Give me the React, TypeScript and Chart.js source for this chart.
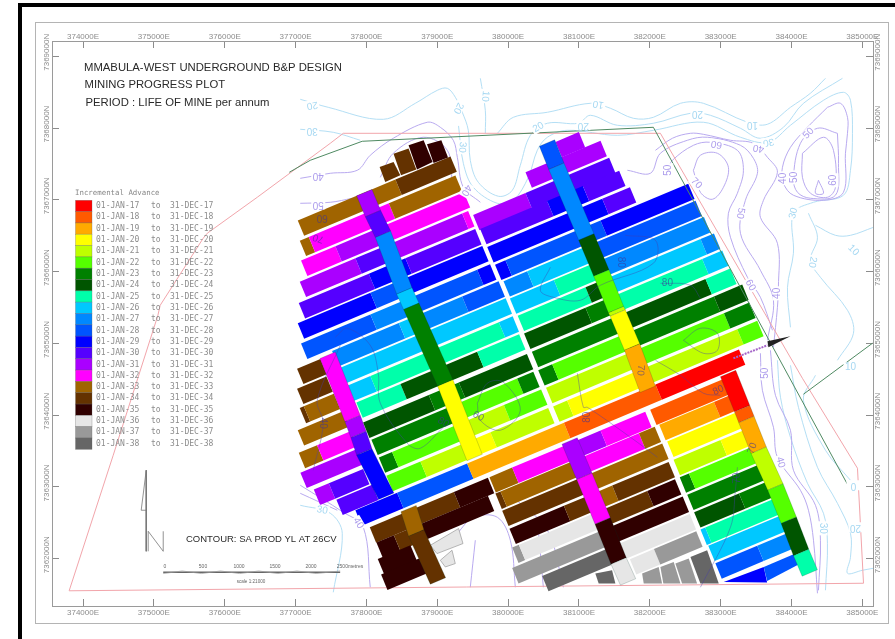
import React, { useEffect, useRef } from "react";
import { Chart, registerables } from "chart.js";

Chart.register(...registerables);

type Pt = [number, number];
// All map values are km past 370000E / 7360000N.
const eastTickValues = [374000,375000,376000,377000,378000,379000,380000,381000,382000,383000,384000,385000];
const northTickValues = [7362000,7363000,7364000,7365000,7366000,7367000,7368000,7369000];
const years = [17,18,19,20,21,22,23,24,25,26,27,28,29,30,31,32,33,34,35,36,37,38];
const yearColours = ["#ff0000","#ff5a00","#ffaa00","#ffff00","#bfff00","#55ff00","#008000","#005500","#00ffaa","#00c8ff","#0088ff","#0055ff","#0000ff","#5500ff","#aa00ff","#ff00ff","#a06400","#643200","#300000","#e6e6e6","#999999","#666666"];

// Panel rows: northing at 380000E, easting breaks, year of each stretch.
type Row = [number, number[], number[]];
const rowsNorthWest: Row[] = [
  [7.816,[7.076,8.454,9.231],[33,34]],
  [7.523,[7.104,7.231,8.361,9.301],[33,32,33]],
  [7.239,[7.122,7.607,8.290,9.420],[32,31,32]],
  [6.952,[7.104,7.889,8.290,9.396,9.48],[31,30,31,32]],
  [6.660,[7.090,8.078,8.595,9.58],[30,29,30]],
  [6.384,[7.076,8.101,8.619,9.68],[29,28,29]],
  [6.082,[7.122,8.101,8.714,9.608,9.79],[28,27,28,29]],
  [5.796,[7.560,8.502,8.807,9.396,9.91],[27,26,27,28]],
  [5.517,[7.677,10.01],[26]],
  [5.225,[7.782,8.101,9.914,10.109],[26,25,26]],
  [4.939,[7.903,8.525,9.608,10.20],[25,24,25]],
  [4.619,[7.998,8.925,9.349,10.31],[24,23,24]],
  [4.333,[8.115,9.349,10.172,10.40],[23,22,23]],
  [4.041,[8.220,8.407,9.349,9.985,10.51],[23,22,21,22]],
  [3.741,[8.327,8.807,9.466,9.795,10.61],[22,21,20,21]],
];
const rowsNorthEast: Row[] = [
  [7.405,[10.713,11.043],[31]],
  [7.157,[10.290,11.349],[31]],
  [6.869,[9.551,10.290,11.471],[31,30]],
  [6.632,[9.65,10.596,11.1,11.612],[30,29,30]],
  [6.339,[9.75,11.373,11.764],[29,30]],
  [6.047,[9.86,10.007,11.349,12.587],[29,28,29]],
  [5.768,[9.98,10.314,11.161,12.690],[27,26,28]],
  [5.490,[10.07,10.691,11.302,12.809],[26,25,27]],
  [5.204,[10.18,11.137,11.349,12.761,12.950],[25,24,26,27]],
  [4.918,[10.27,11.137,11.443,12.784,13.067],[24,23,25,26]],
  [4.619,[10.38,11.556,12.831,13.180],[23,24,25]],
  [4.326,[10.47,10.667,11.679,12.950,13.349],[23,22,23,24]],
  [4.034,[10.58,11.87,13.091,13.448],[21,22,23]],
  [3.734,[10.68,10.878,11.96,13.279,13.561],[21,20,21,22]],
];
const rowHaulage: Row[] = [
  [3.442,[7.889,8.478,9.466,10.832,12.125,13.303],[29,28,19,18,17]],
];
const rowsSouthEast: Row[] = [
  [3.121,[12.05,13.067],[18]],
  [2.857,[12.178,12.950,13.208],[19,18]],
  [2.578,[12.29,13.255],[20]],
  [2.286,[12.38,13.043,13.364],[21,20]],
  [2.007,[12.467,12.597,13.491],[23,22]],
  [1.721,[12.573,13.589],[23]],
  [1.436,[12.67,13.303,13.678],[24,23]],
  [1.157,[12.76,12.827,13.773],[26,25]],
  [0.886,[12.87,13.985],[26]],
  [0.600,[12.97,13.561,14.084],[28,27]],
];
const rowsSouthMiddle: Row[] = [
  [3.121,[9.781,10.102,10.832,11.349,11.98],[33,32,31,32]],
  [2.857,[9.866,9.937,11.114,11.891,12.114],[34,33,32,33]],
  [2.578,[9.961,11.13,12.22],[34,33]],
  [2.286,[10.064,10.832,11.2,11.514,12.31],[35,34,33,34]],
  [2.007,[10.102,10.196,11.419,12.008,12.40],[37,36,34,35]],
  [1.721,[10.102,11.45,12.509],[37,35]],
  [1.436,[10.525,11.443,11.627,12.608],[38,36,36]],
  [1.157,[11.764,12.103,12.70],[36,37]],
];
const rowsSouthWest: Row[] = [
  [3.121,[8.092,9.279,9.759],[34,35]],
  [2.871,[8.186,8.432,8.76,9.759],[35,34,35]],
  [2.634,[8.205,8.666],[35]],
  [2.397,[8.252,8.855],[35]],
];
const rowsWestStubs: Row[] = [
  [5.756,[7.066,7.395],[34]],
  [5.476,[7.066,7.480],[34]],
  [5.193,[7.104,7.161,7.584],[34,33]],
  [4.895,[7.076,7.716],[33]],
  [4.573,[7.090,7.348,7.819],[33,32]],
  [4.287,[7.113,7.913],[31]],
  [3.974,[7.302,7.514,7.998],[31,30]],
  [3.701,[7.621,8.125],[30]],
];

// Gate roads: centreline stations and the year of each stretch.
type Gate = [Pt[], number[]];
const gates: Gate[] = [
  [[[7.452,4.835],[7.805,3.953],[7.889,3.730],[7.970,3.488],[8.280,2.871]],[32,31,30,29]],
  [[[7.970,7.101],[8.092,6.809],[8.234,6.520],[8.535,5.731],[8.633,5.517],[9.113,4.449],[9.527,3.410]],[31,30,27,26,23,20]],
  [[[10.549,7.792],[10.681,7.468],[11.104,6.483],[11.316,5.981],[11.523,5.471],[11.547,5.424],[11.750,4.950],[11.970,4.361]],[28,27,24,22,21,20,19]],
  [[[10.868,3.641],[11.076,3.149],[11.335,2.527],[11.560,1.969],[11.693,1.677]],[31,32,35,36]],
  [[[13.105,4.580],[13.303,4.092],[13.364,3.939],[13.537,3.511],[13.773,3.000],[13.961,2.536],[14.136,2.087],[14.258,1.802]],[17,18,19,21,22,24,25]],
  [[[8.595,2.699],[8.704,2.359],[9.010,1.691]],[33,34]],
];

// Short irregular blocks: four corners and a year.
type Block = [Pt[], number];
const blocks: Block[] = [
  [[[8.186,7.458],[8.383,7.527],[8.478,7.342],[8.266,7.249]],34],
  [[[8.383,7.644],[8.595,7.714],[8.704,7.422],[8.488,7.342]],34],
  [[[8.595,7.760],[8.807,7.830],[8.934,7.528],[8.714,7.422]],35],
  [[[8.855,7.774],[9.057,7.830],[9.152,7.589],[8.948,7.514]],35],
  [[[8.902,2.188],[9.301,2.421],[9.363,2.212],[8.996,2.072]],36],
  [[[9.043,1.979],[9.208,2.119],[9.254,1.933],[9.113,1.886]],36],
  [[[11.891,1.794],[12.125,1.886],[12.173,1.654],[11.914,1.654]],37],
  [[[12.149,1.886],[12.337,1.956],[12.432,1.654],[12.191,1.654]],37],
  [[[12.361,1.933],[12.549,2.003],[12.667,1.654],[12.455,1.654]],37],
  [[[12.573,2.025],[12.809,2.118],[12.973,1.654],[12.714,1.654]],38],
  [[[11.231,1.794],[11.467,1.840],[11.514,1.654],[11.278,1.654]],38],
  [[[13.043,1.677],[13.608,1.886],[13.656,1.669]],29],
  [[[13.608,1.886],[14.055,2.072],[14.126,1.933],[13.656,1.691]],28],
];

const leaseBoundary: Pt[] = [[3.804,1.554],[4.426,3.442],[5.057,5.392],[5.089,5.531],[5.696,6.465],[5.753,6.534],[6.459,7.036],[7.490,7.788],[7.673,7.927],[12.149,7.927],[14.154,4.514],[14.931,3.261],[15.016,1.659],[3.804,1.554]];
const greenLineA: Pt[] = [[6.911,7.384],[7.207,7.551],[7.941,7.816],[12.050,8.011],[14.804,3.010]];
const greenLineB: Pt[] = [[14.168,4.292],[15.142,5.002]];
const shaftArrow: Pt[] = [[13.660,5.030],[13.985,5.100],[13.674,4.946],[13.660,5.030]];
const inclineLine: Pt[] = [[13.180,4.793],[13.660,4.974]];

const lightContours: Pt[][] = [
  [[9.608,8.693],[9.678,8.248],[9.678,7.927]],
  [[9.848,7.927],[10.074,8.150],[10.554,8.220],[11.161,8.345],[11.443,8.276],[11.768,8.136],[12.050,8.150],[12.432,8.345],[12.756,8.345],[13.378,8.081],[13.660,8.053],[13.985,8.289],[14.267,8.485],[14.479,8.693]],
  [[7.066,8.401],[7.461,8.289],[8.238,8.122],[8.690,8.345],[9.000,8.526],[9.142,8.554],[9.255,8.429],[9.353,8.220],[9.438,7.969],[9.466,7.551],[9.579,7.245],[9.862,7.050],[10.059,7.133],[10.172,7.482],[10.314,7.899],[10.554,8.067],[10.991,8.067],[11.161,8.178],[11.542,8.039],[12.050,8.067],[12.573,8.206],[12.855,8.178],[13.279,7.997],[13.561,7.858],[13.886,8.011],[14.168,8.345],[14.719,8.693]],
  [[7.066,7.983],[7.532,7.941],[7.913,7.830]],
  [[9.300,8.030],[9.368,7.509],[9.509,7.175],[9.848,6.952],[10.074,6.994],[10.285,7.314],[10.412,7.690],[10.554,7.872],[10.836,7.969],[11.542,7.899],[12.050,7.969],[12.756,8.081],[13.279,7.872],[13.674,7.802],[13.985,8.039],[14.451,8.387],[14.733,8.498],[14.832,8.387],[14.860,7.927],[14.832,7.412],[14.733,7.064],[14.310,6.966],[14.027,6.813],[14.027,6.256],[13.943,5.782],[13.985,5.225]],
  [[14.239,6.813],[14.366,6.479],[14.267,6.158],[14.408,5.921],[14.790,5.462],[14.874,5.141],[14.648,4.765]],
  [[15.157,6.618],[14.832,6.506],[14.620,6.506],[14.338,6.646]],
  [[13.801,4.765],[13.844,4.250],[13.985,3.692],[14.225,3.052],[14.451,2.634],[14.507,2.216],[14.479,1.561]],
  [[13.985,4.695],[14.098,4.110],[14.366,3.275],[14.648,2.773],[14.832,2.355],[14.832,2.021],[14.790,1.798],[15.001,1.840],[15.157,1.868]],
  [[14.338,4.556],[14.168,4.208],[14.479,3.512],[14.832,3.094]],
  [[7.066,2.745],[7.490,2.634],[7.659,2.355],[7.532,1.533]],
];
const purpleContours: Pt[][] = [
  [[7.066,7.300],[7.490,7.370],[7.871,7.412],[8.054,7.621],[8.379,7.858],[8.859,8.081],[9.043,8.011],[9.226,7.830],[9.283,7.593],[9.368,7.175],[9.608,6.966]],
  [[7.066,6.952],[7.490,6.966],[7.800,7.022]],
  [[8.196,7.314],[8.379,7.649],[8.803,7.872],[9.142,7.690],[9.212,7.231]],
  [[12.615,7.412],[12.714,7.621],[12.954,7.649],[13.109,7.454],[13.039,7.175],[12.883,7.008],[12.714,7.105],[12.615,7.412]],
  [[12.248,7.412],[12.319,7.551],[12.615,7.760],[12.855,7.802],[13.236,7.690],[13.321,7.412],[13.236,7.092],[13.109,6.813],[13.138,6.479],[13.378,5.921],[13.561,5.643],[13.731,5.183]],
  [[11.683,7.412],[12.008,7.370],[12.149,7.649],[12.530,7.830],[12.813,7.872],[13.279,7.760],[13.462,7.579],[13.519,7.370],[13.349,6.994],[13.279,6.534],[13.561,6.019],[13.745,5.601],[13.660,5.044]],
  [[12.079,7.690],[12.319,7.858],[12.573,7.927],[12.756,7.913],[13.138,7.830],[13.462,7.788],[13.660,7.593],[13.801,7.384],[13.604,6.994],[13.561,6.757],[13.801,6.395],[13.815,5.782],[13.801,5.503],[13.745,4.946]],
  [[14.507,8.289],[14.691,8.345],[14.790,8.150],[14.790,7.927],[14.761,7.649],[14.733,7.105],[14.451,6.994],[14.027,7.064],[13.886,7.231],[13.872,7.454],[13.985,7.732],[14.225,8.011],[14.507,8.289]],
  [[14.648,7.927],[14.663,7.509],[14.620,7.064],[14.267,7.022],[14.084,7.105],[14.027,7.300],[14.126,7.788],[14.366,7.997],[14.648,7.927]],
  [[14.154,7.649],[14.451,7.872],[14.592,7.690],[14.620,7.175],[14.507,7.036],[14.267,7.092],[14.154,7.314],[14.154,7.649]],
  [[14.380,7.273],[14.338,7.092],[14.451,7.092],[14.380,7.273]],
  [[13.561,4.863],[13.589,4.347],[13.745,3.832],[13.801,3.414],[14.126,2.954],[14.239,2.676],[14.310,2.258],[14.366,1.519]],
  [[13.702,4.904],[13.773,4.277],[13.985,3.790],[14.027,3.233],[14.338,2.745],[14.408,2.258],[14.380,1.560]],
  [[7.066,3.024],[7.673,2.648],[7.956,2.439],[8.054,1.603]],
  [[7.066,2.912],[7.589,2.676]],
  [[9.283,2.355],[9.509,2.578],[9.848,2.578],[10.031,2.258],[10.102,1.603]],
  [[9.537,2.258],[9.466,1.603]],
  [[10.427,2.397],[10.497,1.603]],
  [[10.074,2.857],[10.554,2.397],[10.780,1.603]],
];
const minedOverContours: Pt[][] = [
  [[7.560,5.086],[7.730,5.211],[8.054,4.974],[8.167,4.584],[8.196,4.166],[8.577,3.609],[8.760,3.539],[9.085,3.832]],
  [[9.565,4.166],[9.706,4.445],[9.932,4.459],[10.172,4.069],[9.890,3.790],[9.608,3.929],[9.565,4.166]],
  [[10.596,6.061],[10.455,5.740],[10.638,5.643],[11.020,5.601],[11.302,5.810],[12.050,6.116],[12.079,6.437],[11.655,6.506]],
  [[12.149,5.838],[12.573,5.810],[12.714,5.629]],
  [[12.474,5.044],[12.714,5.211],[12.954,5.141],[12.954,4.904],[12.756,4.863],[12.474,5.044]],
  [[10.977,4.584],[11.062,4.110],[11.118,4.110],[11.726,3.693],[12.107,3.414]],
  [[12.079,4.765],[12.432,4.556],[12.756,4.306],[12.996,4.278]],
  [[13.236,3.275],[13.208,2.954],[13.138,2.439],[12.714,1.603]],
  [[7.250,3.233],[7.391,3.888],[7.306,4.208],[7.631,4.974]],
];
// Contour labels: text, east, north, angle, tone (0 light, 1 purple, 2 over panels).
const contourLabels: [string, number, number, number, number][] = [
  ["20",7.235,8.317,170,0],["30",7.235,7.969,180,0],["40",7.320,7.329,180,1],["50",7.320,6.938,180,1],["60",7.377,6.757,180,2],["70",7.320,6.465,200,2],
  ["20",9.297,8.276,115,0],["10",9.678,8.443,95,0],["30",9.353,7.732,95,0],["40",9.410,7.133,120,1],["30",7.377,2.676,10,0],["40",7.885,2.495,60,1],
  ["10",11.274,8.331,190,0],["20",11.062,8.039,180,0],["20",10.427,8.011,-30,0],["20",12.672,8.206,180,0],["10",13.448,8.053,180,0],["30",13.674,7.802,170,0],["40",13.533,7.718,190,1],
  ["30",14.027,6.813,-75,0],["20",14.296,6.130,100,0],["10",14.874,6.298,45,0],["40",13.886,7.300,-90,1],["50",14.041,7.314,-90,1],["50",14.239,7.927,-45,1],["60",14.592,7.273,-90,1],
  ["50",13.279,6.813,100,1],["40",13.801,5.698,-90,1],["60",13.420,5.810,60,1],["70",12.658,7.231,45,1],["60",12.940,7.774,190,1],["50",12.262,7.412,-90,1],["80",12.248,5.838,0,2],
  ["50",13.632,4.584,-90,1],["40",13.844,3.344,75,1],["30",14.437,2.425,90,0],["20",14.903,2.439,180,0],["10",14.832,4.668,0,0],["0",14.874,3.024,180,0],
  ["80",12.968,4.347,-25,2],["80",11.118,3.971,-90,2],["70",11.867,4.626,95,2],["70",13.448,3.539,-70,2],["70",13.236,3.121,-90,2],["80",9.085,3.901,30,2],["60",9.579,3.985,30,2],["80",11.584,6.130,90,2],["40",7.377,3.888,90,2],
];
const labelTones = ["#a6d8f2","#ac9cec","rgba(60,50,150,0.6)"];

const northArrowStem: Pt[] = [[4.892,3.233],[4.892,2.104]];
const northArrowHead: Pt[] = [[4.892,3.233],[4.821,2.676],[4.892,2.676]];
const northLetter: Pt[] = [[4.920,2.104],[4.920,2.383],[5.132,2.104],[5.132,2.383]];
const scaleBarStations = [5.132,5.40,5.67,5.94,6.21,6.48,6.75,7.02,7.29,7.629];
const scaleBarNorth = 1.812;
const scaleBarText = ["0","500","1000","1500","2000","2500metres"];
const titleLines = ["MMABULA-WEST UNDERGROUND B&P DESIGN","MINING PROGRESS PLOT","PERIOD : LIFE OF MINE per annum"];
const contourNote = "CONTOUR: SA PROD YL AT 26CV";
const scaleNote = "scale 1:21000";
const legendHeading = "Incremental Advance";

const RUN = 0.414, SKEW = 0.42, HALF_ROW = 0.107, HALF_GATE = 0.108;
const east = (km: number) => 370000 + km * 1000;
const north = (km: number) => 7360000 + km * 1000;
const colourOf = (y: number) => yearColours[years.indexOf(y)];
const toData = (pts: Pt[]) => pts.map(([e, n]) => ({ x: east(e), y: north(n) }));

function shape(pts: Pt[], colour: string, edge = "transparent", edgeWidth = 0) {
  const closed = [...pts, pts[0]];
  return { type: "scatter", data: toData(closed), showLine: true, fill: "shape", backgroundColor: colour, borderColor: edge, borderWidth: edgeWidth, pointRadius: 0, tension: 0 };
}
function line(pts: Pt[], colour: string, width = 1, dash: number[] = [], tension = 0) {
  return { type: "scatter", data: toData(pts), showLine: true, fill: false, borderColor: colour, borderWidth: width, borderDash: dash, pointRadius: 0, tension };
}
function rowShapes(rows: Row[]) {
  const out: any[] = [];
  for (const [n, br, ys] of rows) {
    const c = (e: number) => n + RUN * (e - 10);
    ys.forEach((y, i) => {
      const a = br[i], b = br[i + 1];
      out.push(shape([
        [a - SKEW * HALF_ROW, c(a) + HALF_ROW], [b - SKEW * HALF_ROW, c(b) + HALF_ROW],
        [b + SKEW * HALF_ROW, c(b) - HALF_ROW], [a + SKEW * HALF_ROW, c(a) - HALF_ROW],
      ], colourOf(y)));
    });
  }
  return out;
}
function gateShapes(list: Gate[]) {
  const out: any[] = [];
  for (const [st, ys] of list) {
    ys.forEach((y, i) => {
      const [e0, n0] = st[i], [e1, n1] = st[i + 1];
      out.push(shape([
        [e0 - HALF_GATE, n0 - RUN * HALF_GATE], [e0 + HALF_GATE, n0 + RUN * HALF_GATE],
        [e1 + HALF_GATE, n1 + RUN * HALF_GATE], [e1 - HALF_GATE, n1 - RUN * HALF_GATE],
      ], colourOf(y), "rgba(0,50,40,0.3)", 0.6));
    });
  }
  return out;
}

const sheetPlugin = {
  id: "sheet",
  beforeDraw(chart: any) {
    const { ctx, width, height } = chart;
    ctx.save();
    ctx.fillStyle = "#fff"; ctx.fillRect(0, 0, width, height);
    ctx.fillStyle = "#000"; ctx.fillRect(18, 3, 877, 4); ctx.fillRect(18, 3, 4, 636);
    ctx.strokeStyle = "#b4b4b4"; ctx.lineWidth = 1; ctx.strokeRect(35.5, 22.5, 853, 601);
    ctx.restore();
  },
  afterDraw(chart: any) {
    const { ctx, scales } = chart;
    const X = (km: number) => scales.x.getPixelForValue(east(km));
    const Y = (km: number) => scales.y.getPixelForValue(north(km));
    ctx.save();
    // northing tick labels, read bottom-to-top and centred on their ticks
    ctx.font = "8px 'Liberation Sans'"; ctx.fillStyle = "#8c8c8c"; ctx.textAlign = "center"; ctx.textBaseline = "middle";
    for (const [sc, px] of [[scales.y, 46.5], [scales.y2, 878]] as [any, number][]) {
      for (const t of sc.ticks) {
        ctx.save(); ctx.translate(px, sc.getPixelForValue(t.value) - 4); ctx.rotate(-Math.PI / 2);
        ctx.fillText(`${t.value}N`, 0, 0); ctx.restore();
      }
    }
    // contour labels
    ctx.font = "10px 'Liberation Sans'";
    for (const [txt, e, n, ang, tone] of contourLabels) {
      const x = X(e), y = Y(n);
      ctx.save(); ctx.translate(x, y); ctx.rotate(ang * Math.PI / 180);
      if (tone !== 2) { ctx.fillStyle = "#fff"; ctx.fillRect(-7, -5, 14, 10); }
      ctx.fillStyle = labelTones[tone]; ctx.fillText(txt, 0, 0); ctx.restore();
    }
    // titles
    ctx.textAlign = "left"; ctx.fillStyle = "#2a2a2a"; ctx.font = "11.3px 'Liberation Sans'";
    ctx.fillText(titleLines[0], 84, 67.5); ctx.fillText(titleLines[1], 84.5, 85); ctx.fillText(titleLines[2], 85.5, 103);
    ctx.font = "9.5px 'Liberation Sans'"; ctx.fillText(contourNote, 186, 539);
    // legend
    const top = 200.3, step = 11.32;
    ctx.fillStyle = "#888"; ctx.font = "7.4px 'DejaVu Sans Mono'"; ctx.fillText(legendHeading, 75, 193);
    ctx.font = "8px 'DejaVu Sans Mono'";
    years.forEach((y, i) => {
      const yy = top + i * step;
      ctx.fillStyle = yearColours[i]; ctx.fillRect(75.5, yy, 16.5, step);
      ctx.strokeStyle = "rgba(90,90,90,0.45)"; ctx.lineWidth = 0.6; ctx.strokeRect(75.5, yy, 16.5, step);
      ctx.fillStyle = "#8c8c8c";
      ctx.fillText(`01-JAN-${y}`, 96, yy + step / 2);
      ctx.fillText("to", 151, yy + step / 2);
      ctx.fillText(`31-DEC-${y}`, 170, yy + step / 2);
    });
    // scale bar captions
    ctx.fillStyle = "#666"; ctx.font = "5px 'Liberation Sans'"; ctx.textAlign = "center";
    scaleBarText.forEach((t, i) => ctx.fillText(t, [165, 203, 239, 275, 311, 350][i], 567));
    ctx.font = "4.6px 'Liberation Sans'"; ctx.fillText(scaleNote, 251, 581.5);
    ctx.restore();
  },
};

const chartData = (): any[] => {
  const bottomToTop: any[] = [
    ...lightContours.map((p) => line(p, "#b4dff5", 1, [], 0.35)),
    ...purpleContours.map((p) => line(p, "#b9aaf0", 1, [], 0.35)),
    line(leaseBoundary, "#f2a5ab", 1),
    ...rowShapes(rowsNorthWest), ...rowShapes(rowsNorthEast), ...rowShapes(rowHaulage),
    ...rowShapes(rowsSouthEast), ...rowShapes(rowsSouthMiddle), ...rowShapes(rowsSouthWest), ...rowShapes(rowsWestStubs),
    ...blocks.map(([p, y]) => shape(p, colourOf(y), y === 36 ? "#999" : "transparent", y === 36 ? 0.7 : 0)),
    ...gateShapes(gates),
    ...minedOverContours.map((p) => line(p, "rgba(70,60,170,0.45)", 0.9, [], 0.35)),
    line(greenLineA, "#4f8a62", 1), line(greenLineB, "#4f8a62", 1),
    line(inclineLine, "#a565c8", 2, [2, 1]),
    shape(shaftArrow, "#222"),
    line(northArrowStem, "#777", 1), line(northArrowHead, "#777", 0.8), line(northLetter, "#777", 0.8),
    line(scaleBarStations.map((e) => [e, scaleBarNorth] as Pt), "#666", 1.6),
    line(scaleBarStations.map((e, i) => [e, scaleBarNorth + (i % 2 ? 0.018 : -0.018)] as Pt), "#999", 0.7),
  ];
  return bottomToTop.reverse();
};

const axisBase = {
  type: "linear",
  grid: { display: true, drawOnChartArea: false, drawTicks: true, tickLength: -7, tickColor: "#8c8c8c", tickWidth: 1 },
  border: { display: true, color: "#9a9a9a", width: 1 },
};
const useTicks = (values: number[]) => (s: any) => { s.ticks = values.map((value) => ({ value })); };

export default function App() {
  const ref = useRef<HTMLCanvasElement>(null);
  useEffect(() => {
    const xRange = { min: 373562, max: 385150 };
    const yRange = { min: 7361342, max: 7369213 };
    const eastTicks = { autoSkip: false, maxRotation: 0, color: "#8c8c8c", font: { family: "'Liberation Sans'", size: 8 }, callback: (v: any) => `${v}E` };
    const northTicks = { autoSkip: false, display: false };
    const chart = new Chart(ref.current as HTMLCanvasElement, {
      type: "scatter",
      data: { datasets: chartData() },
      plugins: [sheetPlugin],
      options: {
        animation: false,
        responsive: false,
        devicePixelRatio: 1,
        layout: { padding: 0 },
        plugins: { legend: { display: false }, tooltip: { enabled: false }, title: { display: false } },
        scales: {
          x: { ...axisBase, position: "bottom", ...xRange, ticks: { ...eastTicks, padding: 9 }, afterBuildTicks: useTicks(eastTickValues), afterFit: (s: any) => { s.height = 33; } },
          x2: { ...axisBase, position: "top", ...xRange, ticks: { ...eastTicks, padding: 6 }, afterBuildTicks: useTicks(eastTickValues), afterFit: (s: any) => { s.height = 41; } },
          y: { ...axisBase, position: "left", ...yRange, ticks: northTicks, afterBuildTicks: useTicks(northTickValues), afterFit: (s: any) => { s.width = 52; } },
          y2: { ...axisBase, position: "right", ...yRange, ticks: northTicks, afterBuildTicks: useTicks(northTickValues), afterFit: (s: any) => { s.width = 22; } },
        },
      } as any,
    } as any);
    return () => chart.destroy();
  }, []);
  return (
    <div style={{ position: "fixed", left: 0, top: 0, width: 895, height: 639, background: "#fff" }}>
      <canvas ref={ref} width={895} height={639} style={{ display: "block", width: 895, height: 639 }} />
    </div>
  );
}
